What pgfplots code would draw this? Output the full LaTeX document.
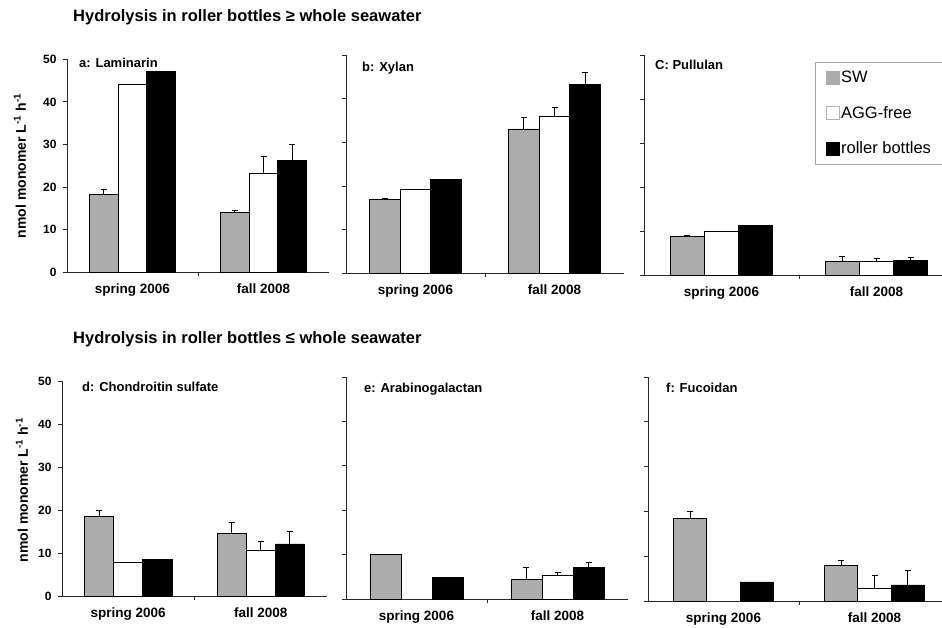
\documentclass[border=0pt]{standalone}
\usepackage{fontspec}
\setmainfont{Liberation Sans}
\usepackage{pgfplots}
\pgfplotsset{compat=1.18}
\definecolor{swgray}{RGB}{172,172,172}
\definecolor{axgray}{RGB}{40,40,40}
\pgfplotsset{
  panel/.style={
    scale only axis, anchor=south west,
    axis lines*=left,
    axis line style={line width=0.9pt, axgray},
    ymin=0, ymax=50, ytick={0,10,20,30,40,50},
    xmin=-0.5, xmax=1.5,
    xtick={0.5}, xticklabels={},
    extra x ticks={0,1},
    extra x tick labels={spring 2006, fall 2008},
    extra x tick style={major tick length=0pt, xticklabel style={yshift=-8pt}},
    tick align=outside, major tick length=4pt,
    tick style={line width=0.9pt, axgray},
    ticklabel style={font=\fontsize{12}{14}\selectfont\bfseries},
    xticklabel style={font=\fontsize{13.5}{15}\selectfont\bfseries},
    yticklabel style={xshift=-3pt},
    /pgf/number format/assume math mode=true,
    ybar, bar width=0.22,
    clip=false,
    error bars/y dir=plus, error bars/y explicit,
    error bars/error mark=|,
    error bars/error bar style={line width=0.9pt, black},
    error bars/error mark options={line width=0.9pt, mark size=3pt, black},
  },
  sw/.style={fill=swgray, draw=black, line width=0.9pt, bar shift=-0.22},
  agg/.style={fill=white, draw=black, line width=0.9pt, bar shift=0},
  rb/.style={fill=black, draw=black, line width=0.9pt, bar shift=0.22},
}
\begin{document}
\begin{tikzpicture}
\useasboundingbox (0pt,0pt) rectangle (942pt,627pt);

% ---- a: Laminarin
\begin{axis}[panel, at={(67pt,354.7pt)}, width=262pt, height=213pt]
\addplot[sw]  coordinates {(0,18.3) +- (0,1.2) (1,14.1) +- (0,0.5)};
\addplot[agg] coordinates {(0,44.0) +- (0,0) (1,23.2) +- (0,3.9)};
\addplot[rb]  coordinates {(0,47.2) +- (0,0) (1,26.3) +- (0,3.8)};
\end{axis}

% ---- b: Xylan
\begin{axis}[panel, at={(346pt,353.7pt)}, width=278pt, height=218pt, yticklabels={}]
\addplot[sw]  coordinates {(0,17.0) +- (0,0.2) (1,33.1) +- (0,2.6)};
\addplot[agg] coordinates {(0,19.3) +- (0,0) (1,36.0) +- (0,2.0)};
\addplot[rb]  coordinates {(0,21.5) +- (0,0) (1,43.4) +- (0,2.7)};
\end{axis}

% ---- c: Pullulan
\begin{axis}[panel, at={(644pt,352pt)}, width=310pt, height=220pt, yticklabels={},
  legend style={at={(axis description cs:0.552,0.968)}, anchor=north west,
    draw=gray!70, line width=0.8pt, font=\fontsize{16.5}{18}\selectfont,
    row sep=18pt, inner xsep=10pt, inner ysep=7pt, cells={anchor=west},
    nodes={inner xsep=2pt}},
  legend image code/.code={\draw[#1] (0pt,-6.5pt) rectangle (13pt,6.5pt);}]
\addplot[sw, forget plot]  coordinates {(0,8.7) +- (0,0.4) (1,3.0) +- (0,1.2)};
\addplot[agg, forget plot] coordinates {(0,9.8) +- (0,0) (1,3.0) +- (0,0.8)};
\addplot[rb, forget plot]  coordinates {(0,11.2) +- (0,0) (1,3.2) +- (0,0.7)};
\addlegendimage{fill=swgray, draw=swgray, line width=0.5pt}
\addlegendentry{SW}
\addlegendimage{fill=white, draw=gray!60, line width=0.6pt}
\addlegendentry{AGG-free}
\addlegendimage{fill=black, draw=black, line width=0.5pt}
\addlegendentry{roller bottles}
\end{axis}

% ---- d: Chondroitin sulfate
\begin{axis}[panel, at={(62pt,31pt)}, width=265pt, height=215pt]
\addplot[sw]  coordinates {(0,18.6) +- (0,1.4) (1,14.55) +- (0,2.55)};
\addplot[agg] coordinates {(0,7.7) +- (0,0) (1,10.7) +- (0,1.9)};
\addplot[rb]  coordinates {(0,8.6) +- (0,0) (1,12.1) +- (0,3.0)};
\end{axis}

% ---- e: Arabinogalactan
\begin{axis}[panel, at={(346pt,28pt)}, width=282pt, height=222pt, yticklabels={}]
\addplot[sw]  coordinates {(0,9.95) +- (0,0.15) (1,4.5) +- (0,2.5)};
\addplot[agg] coordinates {(1,5.4) +- (0,0.5)};
\addplot[rb]  coordinates {(0,4.87) +- (0,0) (1,7.0) +- (0,1.2)};
\end{axis}

% ---- f: Fucoidan
\begin{axis}[panel, at={(648pt,26pt)}, width=302pt, height=224pt, yticklabels={}]
\addplot[sw]  coordinates {(0,18.4) +- (0,1.7) (1,8.0) +- (0,1.1)};
\addplot[agg] coordinates {(1,2.76) +- (0,3.0)};
\addplot[rb]  coordinates {(0,4.25) +- (0,0) (1,3.58) +- (0,3.3)};
\end{axis}

% ---- titles, axis labels and panel labels
\node[anchor=base west, font=\fontsize{16.5}{18}\selectfont\bfseries, inner sep=0pt]
  at (73pt,605pt) {Hydrolysis in roller bottles ≥ whole seawater};
\node[anchor=base west, font=\fontsize{16.5}{18}\selectfont\bfseries, inner sep=0pt]
  at (73pt,283.5pt) {Hydrolysis in roller bottles ≤ whole seawater};
\begin{scope}[every node/.style={rotate=90, anchor=center, inner sep=0pt,
    font=\fontsize{14}{16}\selectfont\bfseries}]
\node at (20pt,461pt) {nmol monomer L\textsuperscript{-1} h\textsuperscript{-1}};
\node at (22pt,137pt) {nmol monomer L\textsuperscript{-1} h\textsuperscript{-1}};
\end{scope}
\begin{scope}[every node/.style={anchor=base west, inner sep=0pt,
    font=\fontsize{13}{15}\selectfont\bfseries}]
\node at (79pt,559pt) {a: Laminarin};
\node at (362pt,555pt) {b: Xylan};
\node at (655pt,557pt) {C: Pullulan};
\node at (82pt,235pt) {d: Chondroitin sulfate};
\node at (364pt,234pt) {e: Arabinogalactan};
\node at (666pt,234pt) {f: Fucoidan};
\end{scope}
\end{tikzpicture}
\end{document}
